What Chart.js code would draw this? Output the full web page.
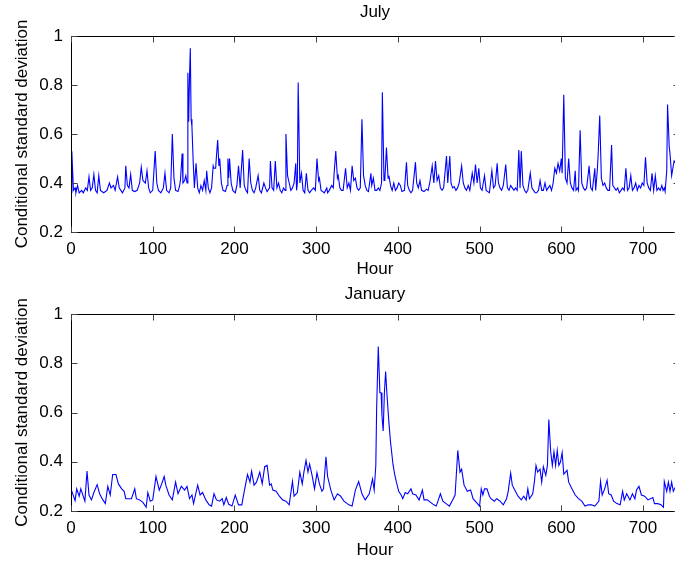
<!DOCTYPE html>
<html lang="en">
<head>
    <meta charset="UTF-8">
    <title>Conditional standard deviation</title>
    <script src="https://cdn.jsdelivr.net/npm/chart.js"></script>
    <style>
        body { margin: 0; overflow: hidden; background: #fff; }
        canvas { display: block; }
    </style>
</head>
<body>
    <canvas id="julyChart" width="680" height="282"></canvas>
    <canvas id="janChart" width="680" height="281"></canvas>

    <script>
        // [hour, conditional sd]
        const julyPoints = [
            [0,0.36],[1,0.53],[3,0.37],[5,0.38],[6,0.36],[8,0.39],[10,0.36],[13,0.37],[15,0.36],[18,0.38],
            [20,0.37],[22,0.425],[24,0.37],[26,0.38],[28,0.435],[30,0.37],[32,0.36],[34,0.43],[36,0.37],[40,0.36],
            [44,0.37],[47,0.40],[49,0.38],[52,0.39],[54,0.37],[57,0.425],[59,0.38],[61,0.37],[63,0.36],[66,0.38],
            [67,0.47],[69,0.39],[71,0.38],[73,0.435],[75,0.37],[78,0.365],[81,0.37],[84,0.40],[86,0.465],[88,0.41],
            [91,0.40],[93,0.45],[95,0.38],[97,0.36],[100,0.37],[103,0.53],[105,0.40],[107,0.37],[110,0.36],[113,0.38],
            [115,0.44],[117,0.37],[120,0.36],[122,0.38],[124,0.60],[126,0.42],[128,0.37],[131,0.365],[133,0.39],[134,0.415],
            [136,0.52],[137,0.40],[139,0.41],[140.5,0.43],[142,0.40],[143,0.85],[144,0.65],[145,0.83],[146,0.95],[147,0.66],
            [148,0.63],[149.5,0.49],[151,0.38],[153,0.48],[155,0.38],[157,0.36],[159,0.39],[161,0.37],[163,0.41],[165,0.37],
            [166,0.45],[168,0.38],[170,0.36],[172,0.38],[174,0.47],[175,0.46],[177,0.46],[178,0.51],[179.5,0.575],[181,0.47],
            [182,0.50],[184,0.40],[186,0.37],[189,0.365],[191,0.39],[192,0.50],[193,0.42],[194,0.50],[196,0.40],[198,0.37],
            [201,0.36],[203,0.39],[205,0.47],[207,0.38],[210,0.535],[212,0.39],[214,0.37],[216,0.36],[218,0.50],[220,0.40],
            [222,0.37],[224,0.36],[226,0.38],[229,0.43],[231,0.37],[233,0.36],[236,0.40],[238,0.38],[240,0.365],[243,0.38],
            [244,0.49],[246,0.38],[248,0.37],[250,0.49],[252,0.38],[254,0.40],[256,0.37],[258,0.36],[260,0.38],[262,0.37],
            [263,0.60],[265,0.43],[267,0.40],[269,0.37],[271,0.38],[273,0.40],[275,0.48],[276,0.37],[277,0.40],[278,0.81],
            [280,0.40],[282,0.44],[284,0.37],[286,0.36],[288,0.44],[290,0.37],[292,0.36],[294,0.37],[297,0.38],[299,0.37],
            [301,0.50],[303,0.41],[304,0.42],[306,0.37],[308,0.365],[310,0.36],[313,0.38],[314,0.36],[316,0.37],[319,0.39],
            [321,0.38],[322,0.44],[324,0.53],[326,0.42],[327,0.43],[329,0.38],[331,0.37],[333,0.37],[336,0.46],[338,0.38],
            [340,0.40],[342,0.37],[344,0.47],[346,0.41],[348,0.42],[350,0.38],[352,0.37],[354,0.38],[356,0.66],[358,0.43],
            [360,0.39],[362,0.37],[364,0.365],[367,0.44],[368,0.39],[370,0.42],[372,0.37],[374,0.37],[376,0.38],[378,0.37],
            [380,0.40],[381,0.77],[383,0.41],[384,0.41],[386,0.545],[388,0.42],[389,0.43],[391,0.39],[393,0.37],[395,0.40],
            [397,0.37],[399,0.38],[401,0.40],[403,0.39],[405,0.365],[408,0.37],[410.5,0.485],[412,0.39],[414,0.37],[416,0.36],
            [418,0.37],[421.5,0.485],[423,0.40],[425,0.38],[427,0.41],[429,0.37],[432,0.365],[435,0.375],[437,0.37],[439,0.40],
            [442,0.47],[444,0.40],[446,0.49],[448,0.41],[450,0.43],[452,0.38],[454,0.37],[456,0.38],[459.5,0.51],[461,0.40],
            [463.5,0.51],[465,0.40],[467,0.38],[469,0.385],[471,0.37],[473,0.38],[475,0.40],[478,0.47],[480,0.40],[482,0.38],
            [484,0.37],[486,0.39],[488,0.37],[491,0.44],[493,0.40],[495,0.475],[497,0.40],[499,0.46],[501,0.38],[503,0.37],
            [506,0.43],[508,0.37],[510,0.365],[512,0.36],[515,0.45],[517,0.38],[519,0.39],[521.5,0.48],[523,0.40],[525,0.38],
            [527,0.37],[529,0.39],[532,0.475],[534,0.38],[536,0.37],[538,0.39],[540,0.38],[542,0.37],[544,0.38],[546,0.37],
            [548,0.535],[549.5,0.38],[551,0.53],[553,0.39],[555,0.37],[557,0.36],[559,0.37],[562,0.44],[564,0.38],[566,0.37],
            [568,0.36],[570,0.36],[572,0.37],[574,0.41],[576,0.37],[578,0.37],[580,0.40],[582,0.37],[584,0.38],[586,0.39],
            [588,0.37],[590,0.40],[592,0.46],[594,0.44],[596,0.48],[598,0.45],[600,0.50],[601,0.44],[603,0.76],[605,0.42],
            [607,0.40],[609,0.50],[611,0.40],[613,0.38],[615,0.37],[617,0.45],[618,0.37],[620,0.38],[621,0.37],[623,0.615],
            [625,0.40],[627,0.38],[629,0.37],[631,0.38],[634,0.47],[636,0.38],[638,0.37],[641,0.46],[642,0.37],[644,0.45],
            [645,0.51],[647,0.675],[649,0.42],[651,0.39],[653,0.40],[655,0.38],[657,0.37],[659,0.37],[661.5,0.555],[663,0.39],
            [665,0.38],[667,0.37],[669,0.38],[671,0.36],[673,0.37],[675,0.38],[677,0.37],[679,0.46],[681,0.37],[683,0.38],
            [685,0.43],[687,0.37],[689,0.38],[691,0.40],[693,0.37],[695,0.39],[697,0.38],[699,0.40],[701,0.39],[703,0.505],
            [705,0.40],[707,0.38],[709,0.37],[711,0.44],[713,0.37],[715,0.43],[717,0.37],[719,0.38],[721,0.37],[723,0.39],
            [724.5,0.37],[726,0.38],[727,0.365],[729,0.45],[730,0.72],[732,0.55],[733,0.52],[735,0.43],[736,0.45],[738,0.49],
            [740,0.48],[743,0.47]
        ];

        const januaryPoints = [
            [0,0.29],[5,0.242],[7,0.29],[10,0.26],[12,0.29],[17,0.24],[19.6,0.362],[22,0.265],[25,0.245],[28,0.275],
            [32,0.307],[35,0.27],[39,0.245],[42,0.23],[45,0.30],[48,0.265],[51,0.348],[55,0.348],[58,0.31],[62,0.29],
            [65,0.28],[67,0.25],[74,0.25],[78,0.29],[80,0.25],[84,0.245],[88,0.235],[92,0.215],[94,0.275],[97,0.24],
            [100,0.245],[104,0.34],[108,0.285],[111,0.31],[114,0.34],[116,0.305],[120,0.265],[124,0.245],[128,0.317],[131,0.27],
            [135,0.30],[139,0.285],[142,0.30],[145,0.25],[148,0.265],[150,0.23],[155,0.305],[158,0.265],[161,0.275],[165,0.245],
            [169,0.225],[172,0.22],[175,0.27],[178,0.245],[182,0.24],[185,0.25],[187,0.225],[190,0.255],[193,0.227],[197,0.22],
            [201,0.265],[205,0.225],[209,0.225],[212,0.28],[216,0.348],[219,0.317],[221,0.362],[224,0.305],[227,0.317],[231,0.358],
            [234,0.31],[237,0.38],[240,0.385],[243,0.305],[245,0.31],[247,0.285],[251,0.28],[255,0.26],[259,0.245],[263,0.24],
            [267,0.225],[271,0.32],[273,0.26],[277,0.275],[280,0.358],[283,0.31],[285,0.358],[287.6,0.405],[290,0.358],[292,0.39],
            [295,0.345],[298,0.29],[301,0.355],[304,0.31],[307,0.28],[309,0.29],[312,0.42],[314,0.34],[318,0.285],[322,0.245],
            [326,0.27],[330,0.26],[334,0.24],[340,0.225],[344,0.22],[348,0.285],[352,0.32],[356,0.27],[360,0.245],[365,0.27],
            [369,0.33],[371,0.285],[373,0.385],[374,0.616],[376,0.868],[378,0.68],[379.5,0.68],[380.5,0.59],[382,0.525],[383.5,0.68],
            [385,0.766],[386.5,0.68],[389,0.56],[391,0.48],[394,0.39],[396,0.35],[398,0.32],[401,0.28],[404,0.265],[406,0.25],
            [409,0.275],[412,0.27],[416,0.29],[418,0.27],[422,0.265],[426,0.245],[430,0.285],[432,0.245],[436,0.245],[440,0.235],
            [444,0.225],[447,0.22],[452,0.27],[455,0.24],[459,0.23],[463,0.22],[467,0.245],[470,0.265],[473.3,0.446],[476,0.358],
            [478,0.37],[481,0.305],[485,0.28],[489,0.285],[492,0.25],[496,0.235],[500,0.22],[502,0.29],[504,0.265],[506,0.29],
            [509,0.29],[512,0.26],[514,0.25],[518,0.24],[521,0.25],[525,0.24],[529,0.225],[533,0.25],[535,0.28],[538,0.354],
            [540,0.305],[543,0.285],[547,0.26],[551,0.245],[554,0.26],[557,0.245],[559,0.29],[561,0.25],[565,0.27],[567,0.317],
            [569,0.385],[571,0.358],[574,0.37],[576,0.317],[578,0.38],[581,0.345],[583,0.385],[584.7,0.571],[587,0.44],[589,0.385],
            [591,0.44],[593,0.385],[595,0.446],[597,0.385],[599,0.40],[601,0.437],[603,0.35],[607,0.365],[609,0.317],[613,0.29],
            [617,0.265],[621,0.25],[625,0.24],[629,0.22],[633,0.225],[637,0.225],[641,0.22],[646,0.24],[648,0.32],[650,0.265],
            [653,0.29],[656,0.325],[658,0.27],[661,0.265],[664,0.24],[668,0.23],[672,0.225],[675,0.28],[677,0.245],[680,0.27],
            [684,0.245],[687,0.27],[690,0.25],[692,0.285],[695,0.30],[698,0.265],[702,0.26],[706,0.245],[712,0.255],[714,0.23],
            [718,0.23],[722,0.225],[725,0.215],[726,0.32],[729,0.28],[731,0.317],[733,0.28],[735,0.317],[737,0.28],[740,0.30],
            [743,0.29]
        ];

        const hourTicks = [0, 100, 200, 300, 400, 500, 600, 700];
        const sdTicks = [0.2, 0.4, 0.6, 0.8, 1];

        const FONT = { family: 'Liberation Sans, Arial, sans-serif', size: 17 };
        Chart.defaults.font = FONT;
        Chart.defaults.color = '#000';

        // MATLAB style box with inward ticks
        const matlabBox = {
            id: 'matlabBox',
            afterDraw(chart) {
                const { ctx, chartArea: a, scales: { x, y } } = chart;
                const L = Math.round(a.left) + 0.5, R = Math.round(a.right) + 0.5;
                const T = Math.round(a.top) + 0.5, B = Math.round(a.bottom) + 0.5;
                ctx.save();
                ctx.strokeStyle = '#000';
                ctx.lineWidth = 1;
                ctx.strokeRect(L, T, R - L, B - T);
                ctx.strokeStyle = '#444';
                ctx.beginPath();
                hourTicks.forEach(h => {
                    const px = Math.round(x.getPixelForValue(h)) + 0.5;
                    ctx.moveTo(px, B); ctx.lineTo(px, B - 6);
                    ctx.moveTo(px, T); ctx.lineTo(px, T + 6);
                });
                sdTicks.forEach(v => {
                    const py = Math.round(y.getPixelForValue(v)) + 0.5;
                    ctx.moveTo(L, py); ctx.lineTo(L + 6, py);
                    ctx.moveTo(R, py); ctx.lineTo(R - 6, py);
                });
                ctx.stroke();
                ctx.restore();
            }
        };

        function makeChart(id, title, points, titlePad, xLabelPad, xHeight) {
            return new Chart(document.getElementById(id), {
                type: 'line',
                data: {
                    datasets: [{
                        data: points.map(p => ({ x: p[0], y: p[1] })),
                        borderColor: '#0000ff',
                        borderWidth: 1.1,
                        pointRadius: 0,
                        tension: 0,
                        fill: false
                    }]
                },
                options: {
                    responsive: false,
                    animation: false,
                    layout: { padding: { left: 0, right: 1, top: 0, bottom: 0 } },
                    plugins: {
                        legend: { display: false },
                        tooltip: { enabled: false },
                        title: {
                            display: true,
                            text: title,
                            fullSize: false,
                            color: '#000',
                            font: { ...FONT, weight: 'normal' },
                            padding: titlePad
                        }
                    },
                    scales: {
                        x: {
                            type: 'linear',
                            min: 0,
                            max: 744,
                            grid: { display: false, drawTicks: false },
                            border: { display: false },
                            afterBuildTicks: s => { s.ticks = hourTicks.map(v => ({ value: v })); },
                            ticks: { padding: xLabelPad, maxRotation: 0, font: FONT },
                            title: { display: true, text: 'Hour', font: FONT, padding: { top: 0, bottom: 2 } },
                            afterFit: s => { s.height = xHeight; }
                        },
                        y: {
                            min: 0.2,
                            max: 1,
                            grid: { display: false, drawTicks: false },
                            border: { display: false },
                            afterBuildTicks: s => { s.ticks = sdTicks.map(v => ({ value: v })); },
                            ticks: {
                                padding: 8,
                                font: FONT,
                                callback: v => (v === 1 ? '1' : v.toFixed(1))
                            },
                            title: {
                                display: true,
                                text: 'Conditional standard deviation',
                                font: FONT,
                                padding: { top: 12, bottom: 0 }
                            },
                            afterFit: s => { s.width = 71; }
                        }
                    }
                },
                plugins: [matlabBox]
            });
        }

        makeChart('julyChart', 'July', julyPoints, { top: 2, bottom: 13.6 }, 7, 50);
        makeChart('janChart', 'January', januaryPoints, { top: 2, bottom: 9.6 }, 7, 52);
    </script>
</body>
</html>
